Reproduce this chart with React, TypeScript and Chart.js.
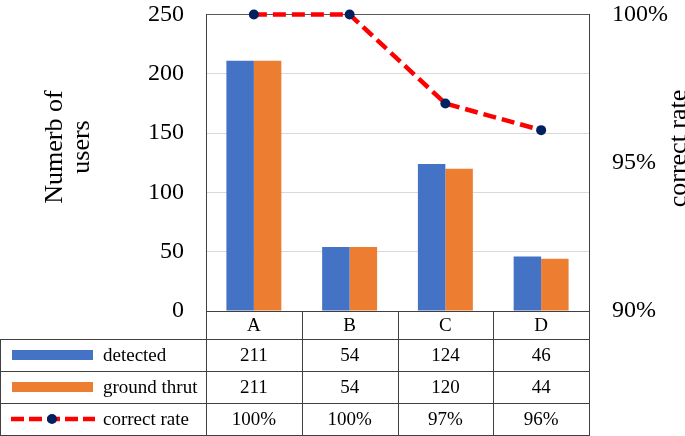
import React, { useEffect, useRef } from "react";
import { Chart, registerables } from "chart.js";

Chart.register(...registerables);

const categories = ["A", "B", "C", "D"];
const detected = [211, 54, 124, 46];
const groundTruth = [211, 54, 120, 44];
const correctRate = [100, 100, 97, 96.1];
const seriesNames = ["detected", "ground thrut", "correct rate"];
const leftTitle = ["Numerb of", "users"];
const rightTitle = "correct rate";

const BLUE = "#4472C4";
const ORANGE = "#ED7D31";
const RED = "#FF0000";
const NAVY = "#002060";
const LINE = "#404040";
const SERIF = "'Liberation Serif', 'Times New Roman', serif";

const tablePlugin = {
  id: "tablePlugin",
  afterDraw(chart: any) {
    const ctx = chart.ctx as CanvasRenderingContext2D;
    const area = chart.chartArea;
    const xs = chart.scales.x;
    const top = area.bottom;
    const headerH = 28;
    const rowH = 32;
    const rowsTop = top + headerH;
    const bottom = rowsTop + rowH * 3;
    const left = 0;
    const right = area.right;

    ctx.save();
    ctx.fillStyle = "#000";
    ctx.font = `26px ${SERIF}`;
    ctx.textAlign = "center";
    ctx.textBaseline = "alphabetic";
    const titleY = 147;
    [62, 89].forEach((bx, i) => {
      ctx.save();
      ctx.translate(bx, titleY);
      ctx.rotate(-Math.PI / 2);
      ctx.fillText(leftTitle[i], 0, 0);
      ctx.restore();
    });
    ctx.save();
    ctx.translate(686, 148.5);
    ctx.rotate(-Math.PI / 2);
    ctx.fillText(rightTitle, 0, 0);
    ctx.restore();

    ctx.strokeStyle = LINE;
    ctx.lineWidth = 1;
    const h = (y: number, x0: number, x1: number) => {
      ctx.beginPath();
      ctx.moveTo(x0, Math.round(y) + 0.5);
      ctx.lineTo(x1, Math.round(y) + 0.5);
      ctx.stroke();
    };
    const v = (x: number, y0: number, y1: number) => {
      ctx.beginPath();
      ctx.moveTo(Math.round(x) + 0.5, y0);
      ctx.lineTo(Math.round(x) + 0.5, y1);
      ctx.stroke();
    };
    h(top, area.left, right + 1);
    for (let r = 0; r <= 3; r++) h(rowsTop + r * rowH, left, right + 1);
    v(left, rowsTop, bottom + 1);
    v(area.left, top, bottom + 1);
    const centers = categories.map((_, i) => xs.getPixelForValue(i));
    for (let i = 0; i < centers.length - 1; i++) {
      v((centers[i] + centers[i + 1]) / 2, top, bottom + 1);
    }
    v(right, top, bottom + 1);

    ctx.font = `19px ${SERIF}`;
    ctx.textAlign = "center";
    ctx.textBaseline = "middle";
    categories.forEach((c, i) => ctx.fillText(c, centers[i], top + headerH / 2 + 1));

    const rows = [
      detected.map((d) => String(d)),
      groundTruth.map((d) => String(d)),
      correctRate.map((d) => Math.round(d) + "%"),
    ];
    rows.forEach((vals, r) => {
      const cy = rowsTop + r * rowH + rowH / 2 + 1;
      vals.forEach((s, i) => ctx.fillText(s, centers[i], cy));
    });

    ctx.textAlign = "left";
    seriesNames.forEach((name, r) => {
      const cy = rowsTop + r * rowH + rowH / 2;
      if (r < 2) {
        ctx.fillStyle = r === 0 ? BLUE : ORANGE;
        ctx.fillRect(12, cy - 5, 81, 10);
      } else {
        ctx.save();
        ctx.strokeStyle = RED;
        ctx.lineWidth = 4.5;
        ctx.setLineDash([13, 5]);
        ctx.beginPath();
        ctx.moveTo(11, cy);
        ctx.lineTo(95, cy);
        ctx.stroke();
        ctx.setLineDash([]);
        ctx.fillStyle = NAVY;
        ctx.beginPath();
        ctx.arc(52, cy, 5, 0, Math.PI * 2);
        ctx.fill();
        ctx.restore();
      }
      ctx.fillStyle = "#000";
      ctx.fillText(name, 103, cy + 1);
    });
    ctx.restore();
  },
};

export default function App() {
  const ref = useRef<HTMLCanvasElement | null>(null);
  useEffect(() => {
    if (!ref.current) return;
    const chart = new Chart(ref.current, {
      type: "bar",
      data: {
        labels: categories,
        datasets: [
          {
            type: "line",
            label: seriesNames[2],
            data: correctRate,
            yAxisID: "y1",
            borderColor: RED,
            borderWidth: 4.5,
            borderDash: [13, 6],
            pointRadius: 5,
            pointBackgroundColor: NAVY,
            pointBorderColor: NAVY,
            pointBorderWidth: 0,
            tension: 0,
            clip: false,
            order: 0,
          } as any,
          {
            label: seriesNames[0],
            data: detected,
            backgroundColor: BLUE,
            yAxisID: "y",
            categoryPercentage: 0.574,
            barPercentage: 1,
            order: 1,
          },
          {
            label: seriesNames[1],
            data: groundTruth,
            backgroundColor: ORANGE,
            yAxisID: "y",
            categoryPercentage: 0.574,
            barPercentage: 1,
            order: 1,
          },
        ],
      },
      options: {
        responsive: false,
        animation: false,
        devicePixelRatio: 1,
        layout: { padding: { left: 0, right: 0, top: 14.5, bottom: 125 } },
        plugins: { legend: { display: false }, tooltip: { enabled: false } },
        scales: {
          x: { type: "category", display: false, offset: true },
          y: {
            position: "left",
            min: 0,
            max: 250,
            ticks: {
              stepSize: 50,
              padding: 22,
              color: "#000",
              font: { family: SERIF, size: 24 },
            },
            grid: {
              drawTicks: false,
              tickLength: 0,
              color: (c: any) =>
                c.tick && c.tick.value === 250 ? "#595959" : c.tick && c.tick.value === 0 ? "rgba(0,0,0,0)" : "#D9D9D9",
              lineWidth: 1,
            },
            border: { display: true, color: LINE, width: 1 },
            afterFit: (s: any) => {
              s.width = 206;
              s.paddingTop = 0;
              s.paddingBottom = 0;
            },
          },
          y1: {
            position: "right",
            min: 90,
            max: 100,
            ticks: {
              stepSize: 5,
              padding: 23,
              color: "#000",
              font: { family: SERIF, size: 24 },
              callback: (v: any) => v + "%",
            },
            grid: { display: false, drawTicks: false, tickLength: 0 },
            border: { display: true, color: LINE, width: 1 },
            afterFit: (s: any) => {
              s.width = 96;
              s.paddingTop = 0;
              s.paddingBottom = 0;
            },
          },
        },
      } as any,
      plugins: [tablePlugin],
    });
    return () => chart.destroy();
  }, []);
  return (
    <div style={{ position: "fixed", left: 0, top: 0, width: 685, height: 436, background: "#fff" }}>
      <canvas ref={ref} width={685} height={436} />
    </div>
  );
}
